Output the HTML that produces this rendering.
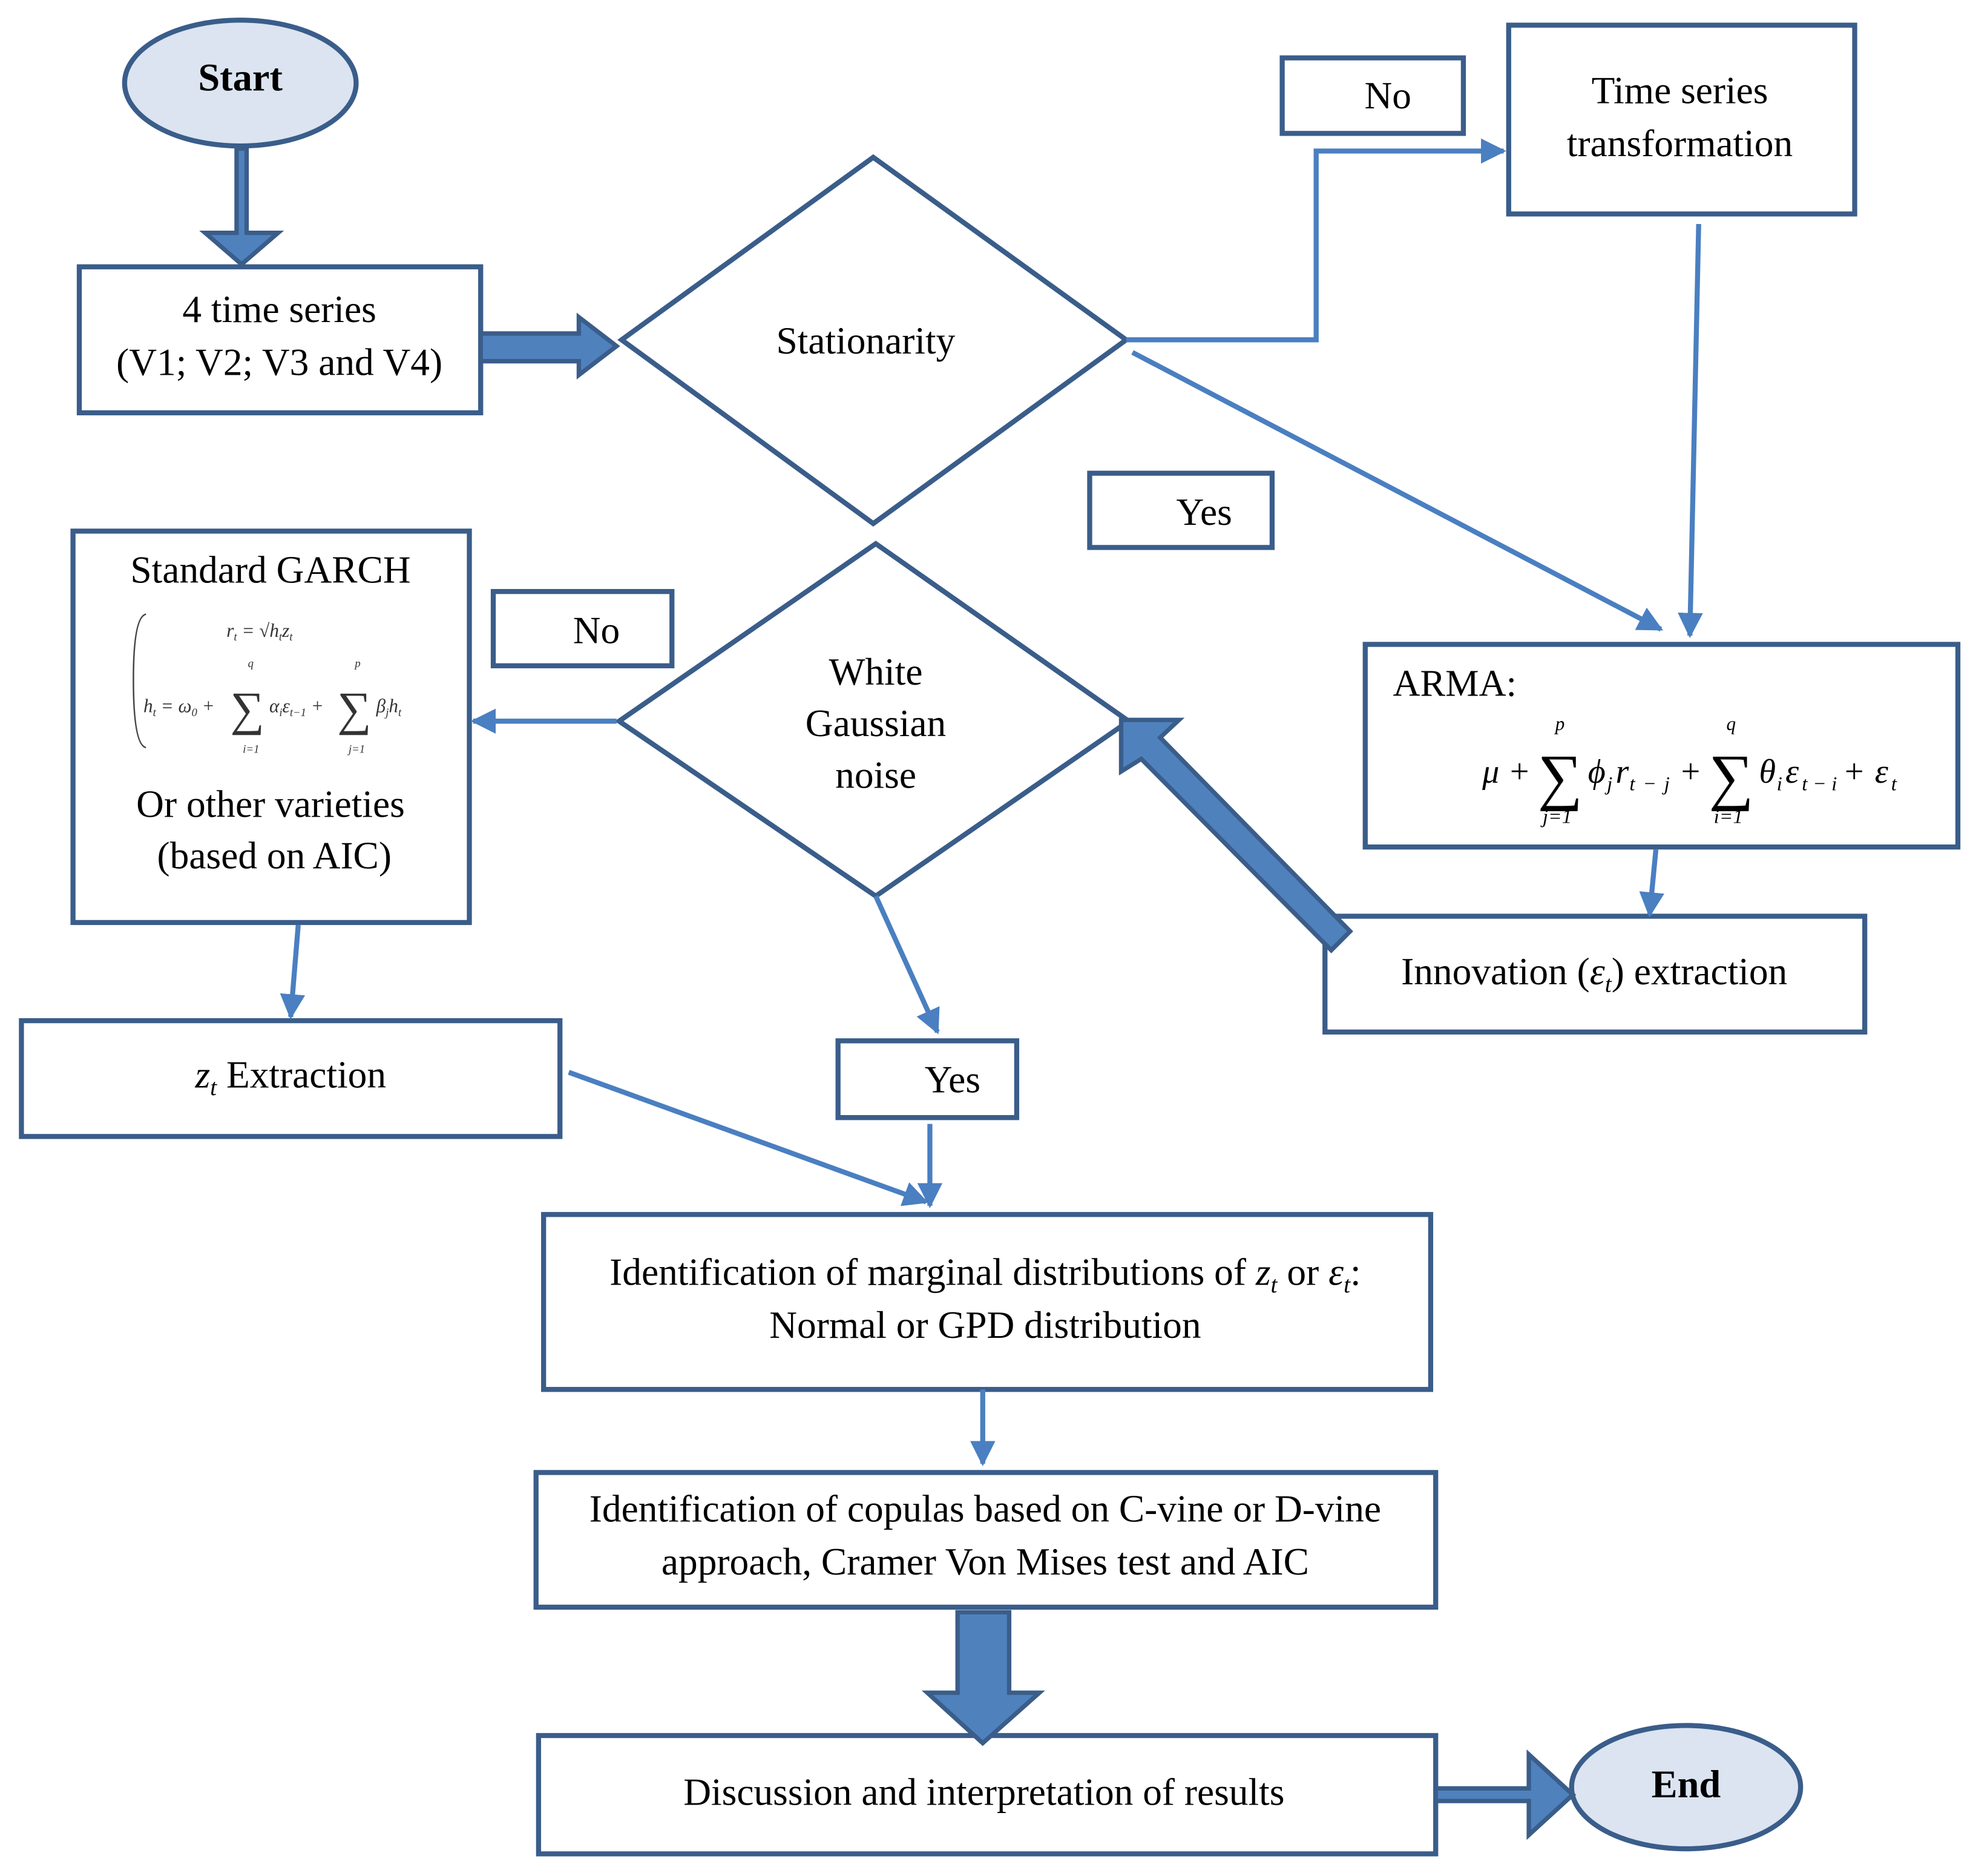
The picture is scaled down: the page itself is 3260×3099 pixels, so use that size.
<!DOCTYPE html>
<html><head><meta charset="utf-8"><style>html,body{margin:0;padding:0;background:#fff}svg{display:block}</style></head>
<body>
<svg width="3260" height="3099" viewBox="0 0 1568 1490.6" xmlns="http://www.w3.org/2000/svg" font-family="'Liberation Serif', serif" fill="#000">
<defs>
<marker id="ah" viewBox="0 0 10 10" refX="9" refY="5" markerWidth="5" markerHeight="5" orient="auto"><path d="M0,0 L10,5 L0,10 z" fill="#4a7fc1"/></marker>
</defs>
<g stroke="#3a5d8a" stroke-width="4" fill="none">
<rect x="63" y="212" width="319" height="116"/>
<rect x="1019" y="46" width="144" height="60"/>
<rect x="1199" y="20" width="275" height="150"/>
<rect x="866" y="376" width="145" height="59"/>
<rect x="1085" y="512" width="471" height="161"/>
<rect x="1053" y="728" width="429" height="92"/>
<rect x="392" y="470" width="142" height="59"/>
<rect x="58" y="422" width="315" height="311"/>
<rect x="17" y="811" width="428" height="92"/>
<rect x="666" y="827" width="142" height="61"/>
<rect x="432" y="965" width="705" height="139"/>
<rect x="426" y="1170" width="715" height="107"/>
<rect x="428" y="1379" width="713" height="94"/>
<polygon points="694,125 895,270 694,416 494,270"/>
<polygon points="696,432 897,573 696,712 492,573"/>
<ellipse cx="191" cy="66" rx="92" ry="50" fill="#dbe4f0"/>
<ellipse cx="1340" cy="1420" rx="91" ry="49" fill="#dbe4f0"/>
</g>
<g stroke="#4a7fc1" stroke-width="4" fill="none" marker-end="url(#ah)">
<polyline points="895,270 1046,270 1046,120 1195,120"/>
<line x1="900" y1="280" x2="1320" y2="500"/>
<line x1="1350" y1="178" x2="1343" y2="505"/>
<line x1="1316" y1="675" x2="1311" y2="727"/>
<line x1="490" y1="573" x2="376" y2="573"/>
<line x1="237" y1="735" x2="231" y2="808"/>
<line x1="696" y1="712" x2="745" y2="820"/>
<line x1="739" y1="893" x2="739" y2="958"/>
<line x1="452" y1="852" x2="736" y2="955"/>
<line x1="781" y1="1104" x2="781" y2="1163"/>
</g>
<g fill="#4f81bd" stroke="#3a5d8a" stroke-width="3.5" stroke-linejoin="miter">
<polygon points="188,118 196,118 196,185 221,185 192,210 163,185 188,185"/>
<polygon points="382,265 460,265 460,252 490,275 460,298 460,287 382,287"/>
<polygon points="761,1281 802,1281 802,1345 826,1345 781,1385 737,1345 761,1345"/>
<polygon points="1141,1421 1215,1421 1215,1394 1250,1426 1215,1458 1215,1431 1141,1431"/>
<polygon points="891,572 937,572 922,586 1073,740 1058,755 907,603 891,613"/>
</g>
<g font-size="30.5" text-anchor="middle">
<text x="191" y="72" font-weight="bold" font-size="31">Start</text>
<text x="1340" y="1428" font-weight="bold" font-size="31">End</text>
<text x="222" y="256">4 time series</text>
<text x="222" y="298">(V1; V2; V3 and V4)</text>
<text x="688" y="281">Stationarity</text>
<text x="1103" y="86">No</text>
<text x="1335" y="82">Time series</text>
<text x="1335" y="124">transformation</text>
<text x="957" y="417">Yes</text>
<text x="474" y="511">No</text>
<text x="696" y="544">White</text>
<text x="696" y="585">Gaussian</text>
<text x="696" y="626">noise</text>
<text x="215" y="463">Standard GARCH</text>
<text x="215" y="649">Or other varieties</text>
<text x="218" y="690">(based on AIC)</text>
<text x="1267" y="782">Innovation (<tspan font-style="italic">ε</tspan><tspan font-style="italic" font-size="19" dy="6">t</tspan><tspan dy="-6">) extraction</tspan></text>
<text x="231" y="864"><tspan font-style="italic">z</tspan><tspan font-style="italic" font-size="19" dy="6">t</tspan><tspan dy="-6"> Extraction</tspan></text>
<text x="757" y="868">Yes</text>
<text x="783" y="1021">Identification of marginal distributions of <tspan font-style="italic">z</tspan><tspan font-style="italic" font-size="19" dy="6">t</tspan><tspan dy="-6">  or </tspan><tspan font-style="italic">ε</tspan><tspan font-style="italic" font-size="19" dy="6">t</tspan><tspan dy="-6">:</tspan></text>
<text x="783" y="1063">Normal or GPD distribution</text>
<text x="783" y="1209">Identification of copulas based on C-vine or D-vine</text>
<text x="783" y="1251">approach, Cramer Von Mises test and AIC</text>
<text x="782" y="1434">Discussion and interpretation of results</text>
</g>
<text x="1107" y="553" font-size="30">ARMA:</text>
<g font-style="italic" font-size="27">
<text x="1178" y="622">μ</text>
<text x="1200" y="622" font-style="normal">+</text>
<text x="1222" y="634" font-size="50" font-style="normal">∑</text>
<text x="1236" y="580" font-size="15">p</text>
<text x="1226" y="654" font-size="16">j=1</text>
<text x="1262" y="622">ϕ</text><text x="1277" y="628" font-size="16">j</text>
<text x="1284" y="622">r</text><text x="1295" y="628" font-size="16" textLength="32">t−j</text>
<text x="1336" y="622" font-style="normal">+</text>
<text x="1358" y="634" font-size="50" font-style="normal">∑</text>
<text x="1372" y="580" font-size="15">q</text>
<text x="1362" y="654" font-size="16">i=1</text>
<text x="1398" y="622">θ</text><text x="1412" y="628" font-size="16">i</text>
<text x="1419" y="622">ε</text><text x="1432" y="628" font-size="16" textLength="28">t−i</text>
<text x="1466" y="622" font-style="normal">+</text>
<text x="1490" y="622">ε</text><text x="1503" y="628" font-size="16">t</text>
</g>
<g font-style="italic" font-size="15" fill="#333">
<path d="M116,488 Q106,490 106,540 Q106,592 116,594" stroke="#444" stroke-width="1.2" fill="none"/>
<text x="180" y="506">r<tspan font-size="9" dy="3">t</tspan><tspan dy="-3"> = √h</tspan><tspan font-size="9" dy="3">t</tspan><tspan dy="-3">z</tspan><tspan font-size="9" dy="3">t</tspan></text>
<text x="114" y="566">h<tspan font-size="9" dy="3">t</tspan><tspan dy="-3"> = ω</tspan><tspan font-size="9" dy="3">0</tspan><tspan dy="-3"> +</tspan></text>
<text x="183" y="576" font-size="38" font-style="normal">∑</text>
<text x="197" y="530" font-size="9">q</text>
<text x="193" y="598" font-size="9">i=1</text>
<text x="214" y="566">α<tspan font-size="9" dy="3">i</tspan><tspan dy="-3">ε</tspan><tspan font-size="9" dy="3">t−1</tspan><tspan dy="-3"> +</tspan></text>
<text x="268" y="576" font-size="38" font-style="normal">∑</text>
<text x="282" y="530" font-size="9">p</text>
<text x="277" y="598" font-size="9">j=1</text>
<text x="299" y="566">β<tspan font-size="9" dy="3">j</tspan><tspan dy="-3">h</tspan><tspan font-size="9" dy="3">t</tspan></text>
</g>
</svg>
</body></html>
